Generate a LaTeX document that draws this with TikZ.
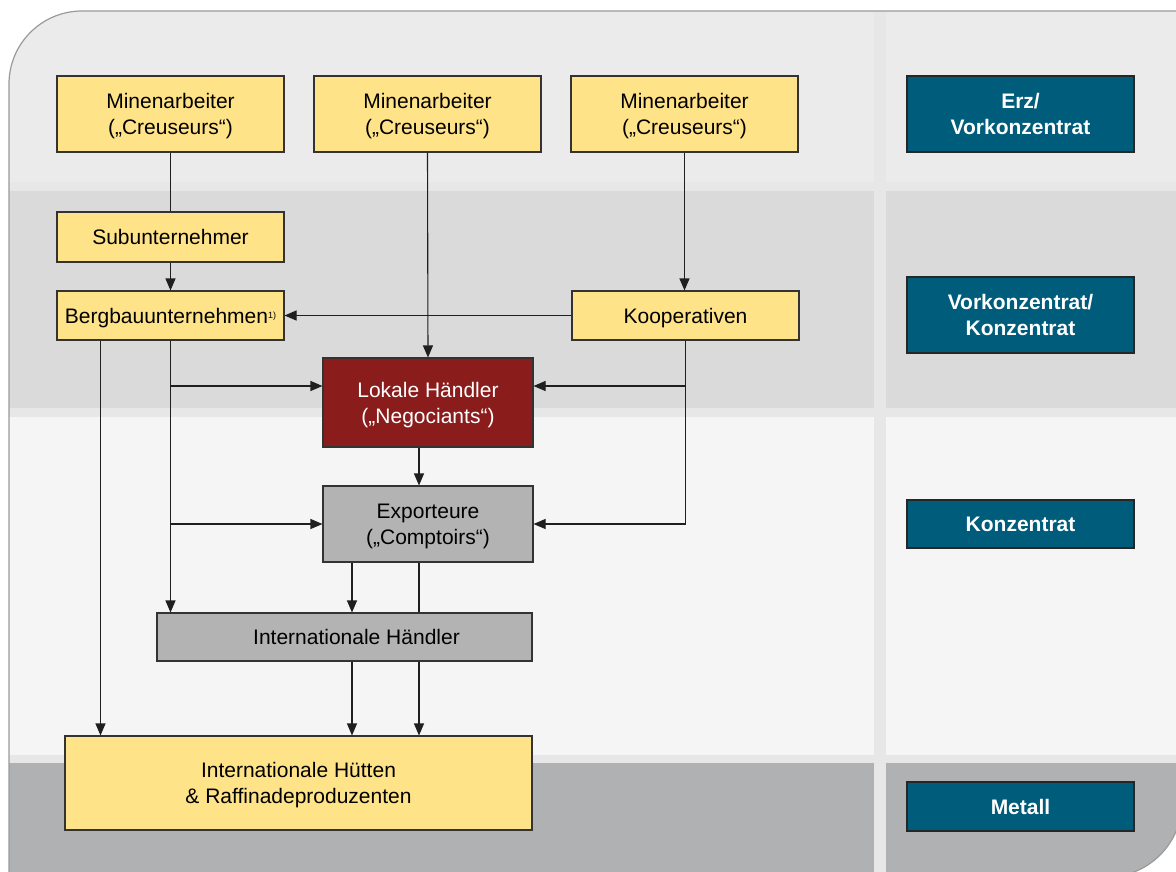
\documentclass[tikz,border=0pt]{standalone}
\usepackage{fontspec}
\setmainfont{Liberation Sans}
\usetikzlibrary{arrows.meta,calc}
\definecolor{panelgap}{HTML}{E7E7E7}
\definecolor{bandA}{HTML}{EBEBEB}
\definecolor{bandB}{HTML}{DADADA}
\definecolor{bandC}{HTML}{F5F5F5}
\definecolor{bandD}{HTML}{B0B1B3}
\definecolor{boxyellow}{HTML}{FFE388}
\definecolor{boxred}{HTML}{8A1D1C}
\definecolor{boxgray}{HTML}{B3B3B3}
\definecolor{boxteal}{HTML}{005C7B}
\definecolor{linegray}{HTML}{1F1F1F}
\definecolor{boxline}{HTML}{333333}
\definecolor{bordergray}{HTML}{9A9A9A}
\tikzset{
  base/.style={draw=boxline, line width=1.1pt, rectangle, inner sep=0pt, align=center,
    text depth=0pt, font=\fontsize{21}{26}\selectfont},
  ybox/.style={base, fill=boxyellow, text=black},
  rbox/.style={base, fill=boxred, text=white},
  gbox/.style={base, fill=boxgray, text=black},
  tbox/.style={base, fill=boxteal, draw=black!85, text=white, font=\fontsize{21}{26}\selectfont\bfseries},
  conn/.style={draw=linegray, line width=1.1pt},
  arr/.style={conn, -{Triangle[length=12pt,width=10pt]}},
}
\begin{document}
\begin{tikzpicture}[x=1pt,y=-1pt]
\useasboundingbox (0,0) rectangle (1176,871);
% panel
\def\panelpath{(9,877) -- (9,84) arc[start angle=180,end angle=90,radius=73pt] -- (1182,11) -- (1182,802) arc[start angle=0,end angle=-90,radius=75pt] -- cycle}
\fill[panelgap] \panelpath;
\begin{scope}
\clip \panelpath;
\fill[bandA] (0,0) rectangle (874,182);
\fill[bandA] (886,0) rectangle (1200,182);
\fill[bandB] (0,191) rectangle (874,408);
\fill[bandB] (886,191) rectangle (1200,408);
\fill[bandC] (0,417) rectangle (874,755);
\fill[bandC] (886,417) rectangle (1200,755);
\fill[bandD] (0,763) rectangle (874,900);
\fill[bandD] (886,763) rectangle (1200,900);
\end{scope}
\draw[bordergray, line width=1.2pt] \panelpath;

% nodes
\node[ybox, minimum width=227pt, minimum height=76pt] (m1) at (170.5,114) {Minenarbeiter\\(„Creuseurs“)};
\node[ybox, minimum width=227pt, minimum height=76pt] (m2) at (427.5,114) {Minenarbeiter\\(„Creuseurs“)};
\node[ybox, minimum width=227pt, minimum height=76pt] (m3) at (684.5,114) {Minenarbeiter\\(„Creuseurs“)};
\node[ybox, minimum width=227pt, minimum height=50pt] (sub) at (170.5,237) {Subunternehmer};
\node[ybox, minimum width=227pt, minimum height=49pt] (berg) at (170.5,315.5) {Bergbauunternehmen\raisebox{5pt}{\fontsize{9}{9}\selectfont 1)}};
\node[ybox, minimum width=227pt, minimum height=49pt] (koop) at (685.5,315.5) {Kooperativen};
\node[rbox, minimum width=210pt, minimum height=89pt] (lh) at (428,402.5) {Lokale Händler\\(„Negociants“)};
\node[gbox, minimum width=210pt, minimum height=76pt] (exp) at (428,524) {Exporteure\\(„Comptoirs“)};
\node[gbox, minimum width=375pt, minimum height=48pt] (ih) at (344.5,637) {\hspace*{24pt}Internationale Händler};
\node[ybox, minimum width=467pt, minimum height=94pt] (hut) at (298.5,783) {Internationale Hütten\\\& Raffinadeproduzenten};

\node[tbox, minimum width=227pt, minimum height=76pt] (erz) at (1020.5,114) {Erz/\\Vorkonzentrat};
\node[tbox, minimum width=227pt, minimum height=76pt] (vk) at (1020.5,315) {Vorkonzentrat/\\Konzentrat};
\node[tbox, minimum width=227pt, minimum height=48pt] (kz) at (1020.5,524) {Konzentrat};
\node[tbox, minimum width=227pt, minimum height=49pt] (met) at (1020.5,806.5) {Metall};

% connectors
\draw[conn] (m1.south) -- (sub.north);
\draw[arr] (sub.south) -- (berg.north);
\draw[arr] (m2.south) -- (lh.north);
\draw[arr] (m3.south) -- (m3.south |- koop.north);
\draw[arr] (koop.west) -- (berg.east);

\coordinate (lhE) at ([yshift=16.5pt]lh.east);
\coordinate (lhW) at ([yshift=16.5pt]lh.west);
\draw[conn] (koop.south) -- (koop.south |- exp.east);
\draw[arr] (koop.south |- lhE) -- (lhE);
\draw[arr] (koop.south |- exp.east) -- (exp.east);

\draw[arr] (berg.south) -- (berg.south |- ih.north);
\draw[arr] (berg.south |- lhW) -- (lhW);
\draw[arr] (berg.south |- exp.west) -- (exp.west);

\coordinate (bergL) at ([xshift=-70pt]berg.south);
\draw[arr] (bergL) -- (bergL |- hut.north);

\coordinate (lhS) at ([xshift=-9pt]lh.south);
\draw[arr] (lhS) -- (lhS |- exp.north);

\coordinate (expA) at ([xshift=-76pt]exp.south);
\coordinate (expB) at ([xshift=-9pt]exp.south);
\draw[arr] (expA) -- (expA |- ih.north);
\draw[conn] (expB) -- (expB |- ih.north);

\coordinate (ihA) at ([xshift=7.5pt]ih.south);
\coordinate (ihB) at ([xshift=74.5pt]ih.south);
\draw[arr] (ihA) -- (ihA |- hut.north);
\draw[arr] (ihB) -- (ihB |- hut.north);
\end{tikzpicture}
\end{document}
